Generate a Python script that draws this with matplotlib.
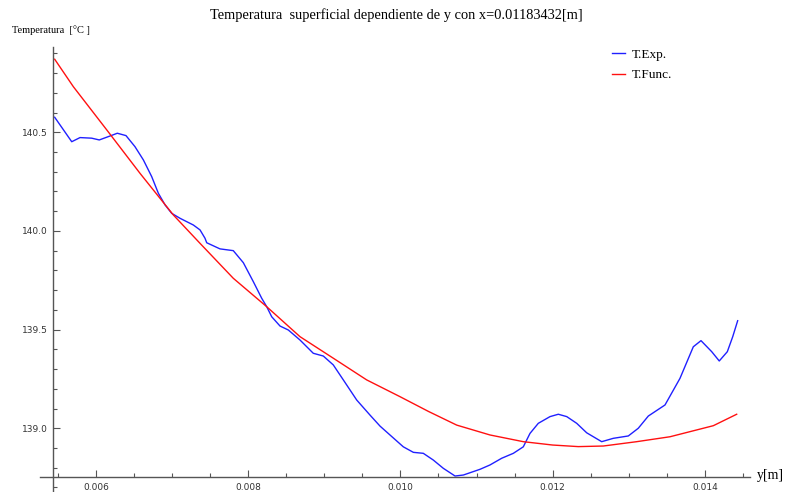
import matplotlib
matplotlib.use('Agg')
import matplotlib.pyplot as plt
from matplotlib.ticker import MultipleLocator, FormatStrFormatter

# T.Exp. (blue)
y_exp = [0.005457, 0.005681, 0.005790, 0.005943, 0.006043, 0.006184, 0.006280, 0.006394,
         0.006512, 0.006622, 0.006732, 0.006819, 0.006907, 0.006995, 0.007104, 0.007279,
         0.007367, 0.007432, 0.007455, 0.007629, 0.007804, 0.007936, 0.008067, 0.008177,
         0.008243, 0.008309, 0.008418, 0.008527, 0.008681, 0.008855, 0.008987, 0.009118,
         0.009250, 0.009426, 0.009600, 0.009732, 0.009863, 0.010038, 0.010170, 0.010301,
         0.010432, 0.010564, 0.010718, 0.010827, 0.011046, 0.011177, 0.011331, 0.011484,
         0.011615, 0.011703, 0.011812, 0.011966, 0.012075, 0.012186, 0.012317, 0.012448,
         0.012645, 0.012798, 0.012995, 0.013126, 0.013258, 0.013477, 0.013674, 0.013849,
         0.013950, 0.014091, 0.014190, 0.014296, 0.014367, 0.014432]
t_exp = [140.576, 140.452, 140.473, 140.470, 140.461, 140.481, 140.495, 140.483,
         140.427, 140.360, 140.275, 140.191, 140.132, 140.089, 140.064, 140.030,
         140.005, 139.963, 139.940, 139.909, 139.900, 139.839, 139.743, 139.659,
         139.616, 139.565, 139.518, 139.498, 139.447, 139.380, 139.366, 139.321,
         139.245, 139.143, 139.067, 139.011, 138.966, 138.906, 138.878, 138.873,
         138.839, 138.797, 138.758, 138.763, 138.792, 138.814, 138.848, 138.873,
         138.906, 138.974, 139.025, 139.059, 139.071, 139.059, 139.025, 138.977,
         138.932, 138.949, 138.961, 139.000, 139.062, 139.118, 139.253, 139.413,
         139.444, 139.388, 139.341, 139.388, 139.464, 139.545]

# T.Func. (red)
y_func = [0.005457, 0.005702, 0.006141, 0.006578, 0.007016, 0.007367, 0.007804, 0.008243,
          0.008681, 0.009118, 0.009557, 0.009995, 0.010370, 0.010740, 0.011177, 0.011615,
          0.012000, 0.012338, 0.012666, 0.013105, 0.013543, 0.014112, 0.014419]
t_func = [140.870, 140.731, 140.512, 140.292, 140.081, 139.937, 139.760, 139.616,
          139.464, 139.355, 139.245, 139.160, 139.085, 139.016, 138.966, 138.932,
          138.915, 138.907, 138.910, 138.932, 138.957, 139.013, 139.071]

title = 'Temperatura  superficial dependiente de y con x=0.01183432[m]'

fig = plt.figure(figsize=(7.86, 4.92), dpi=100)
ax = fig.add_axes([40 / 786., 0.0, 710 / 786., 445 / 492.])

ax.plot(y_exp, t_exp, color='#2020ff', lw=1.0, label='T.Exp.')
ax.plot(y_func, t_func, color='#ff1010', lw=1.0, label='T.Func.')

ax.set_xlim(0.005264, 0.014594)
ax.set_ylim(138.677, 140.932)

for s in ['top', 'right']:
    ax.spines[s].set_visible(False)
ax.spines['left'].set_position(('data', 0.00544))
ax.spines['bottom'].set_position(('data', 138.753))
for s in ['left', 'bottom']:
    ax.spines[s].set_color('#555555')
    ax.spines[s].set_linewidth(1.0)

ax.xaxis.set_major_locator(MultipleLocator(0.002))
ax.xaxis.set_minor_locator(MultipleLocator(0.0005))
ax.yaxis.set_major_locator(MultipleLocator(0.5))
ax.yaxis.set_minor_locator(MultipleLocator(0.1))
ax.xaxis.set_major_formatter(FormatStrFormatter('%.3f'))
ax.yaxis.set_major_formatter(FormatStrFormatter('%.1f'))
ax.tick_params(which='both', direction='in', colors='#555555', labelcolor='#333333',
               labelsize=6.5, width=0.8)
ax.tick_params(which='major', length=5, pad=4)
ax.tick_params(which='minor', length=3)

fig.text(396 / 786., 1 - 15 / 492., title, ha='center', va='center',
         family='Liberation Serif', fontsize=10.4)
fig.text(12 / 786., 1 - 30 / 492., 'Temperatura  [\u00b0C ]', ha='left', va='center',
         family='Liberation Serif', fontsize=7.5)
fig.text(757 / 786., 1 - 476 / 492., 'y[m]', ha='left', va='center',
         family='Liberation Serif', fontsize=10)

leg = fig.legend(loc='upper left', bbox_to_anchor=(600 / 786., 1 - 37 / 492.),
                 frameon=False, handlelength=1.0, handletextpad=0.5, labelspacing=0.6,
                 prop={'family': 'Liberation Serif', 'size': 9.5})

fig.savefig('out.png', dpi=100)
